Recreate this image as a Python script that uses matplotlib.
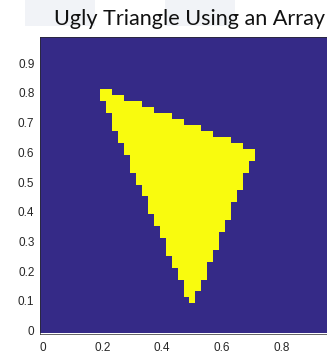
import numpy as np
import matplotlib.pyplot as plt
from matplotlib.colors import ListedColormap
from matplotlib.patches import Rectangle

# triangle corners
tri_x = [0.2, 0.7, 0.5]
tri_y = [0.8, 0.6, 0.1]

# array resolution: samples at 0, 0.02, ..., 0.98
n_cells = 50
cell = 0.02

x_ticks = [0, 0.2, 0.4, 0.6, 0.8]
y_ticks = [0, 0.1, 0.2, 0.3, 0.4, 0.5, 0.6, 0.7, 0.8, 0.9]


def seg_dist(px, py, x1, y1, x2, y2):
    dx, dy = x2 - x1, y2 - y1
    t = ((px - x1) * dx + (py - y1) * dy) / (dx * dx + dy * dy)
    t = np.clip(t, 0, 1)
    return np.hypot(px - (x1 + t * dx), py - (y1 + t * dy))


def tri_mask(px, py, xs, ys, tol):
    # inside test plus a small tolerance around the edges
    signs = []
    dists = []
    for k in range(3):
        x1, y1 = xs[k], ys[k]
        x2, y2 = xs[(k + 1) % 3], ys[(k + 1) % 3]
        signs.append((x2 - x1) * (py - y1) - (y2 - y1) * (px - x1))
        dists.append(seg_dist(px, py, x1, y1, x2, y2))
    s = np.array(signs)
    inside = np.all(s >= 0, axis=0) | np.all(s <= 0, axis=0)
    near = np.min(np.array(dists), axis=0) <= tol
    return inside | near


coords = np.arange(n_cells) * cell
X, Y = np.meshgrid(coords, coords)
A = tri_mask(X, Y, tri_x, tri_y, 0.0108).astype(float)

parula_ends = ListedColormap(['#352A87', '#F9FB0E'])

fig = plt.figure(figsize=(3.27, 3.53), dpi=100)
fig.patch.set_facecolor('white')

# faint blocks behind the heading
for x0 in (25, 165):
    fig.patches.append(Rectangle((x0 / 327, 1 - 26 / 353), 70 / 327, 26 / 353,
                                 transform=fig.transFigure, facecolor='#F1F3F7',
                                 edgecolor='none', zorder=0))

lo, hi = -cell / 2, (n_cells - 0.5) * cell
ax = fig.add_axes([40 / 327, 19.5 / 353, 298 / 327, 297 / 353])
ax.imshow(A, cmap=parula_ends, origin='lower', interpolation='nearest',
          extent=[lo, hi, lo, hi], vmin=0, vmax=1, aspect='auto')
ax.set_xlim(lo, hi)
ax.set_ylim(lo, hi)

ax.set_xticks(x_ticks)
ax.set_xticklabels(['0' if t == 0 else f'{t:g}' for t in x_ticks])
ax.set_yticks(y_ticks)
ax.set_yticklabels(['0' if t == 0 else f'{t:g}' for t in y_ticks])
ax.tick_params(length=0, labelsize=8.5, labelcolor='#262626', pad=4)
ax.tick_params(axis='x', pad=6)
for lab in ax.get_xticklabels() + ax.get_yticklabels():
    lab.set_family('Liberation Sans')
for sp in ax.spines.values():
    sp.set_color('#262626')
    sp.set_linewidth(0.5)

fig.text(189 / 327, 1 - 25 / 353, 'Ugly Triangle Using an Array',
         ha='center', va='baseline', fontsize=15.6, family='Lato', color='#111111')

fig.savefig('out.png', dpi=100)
